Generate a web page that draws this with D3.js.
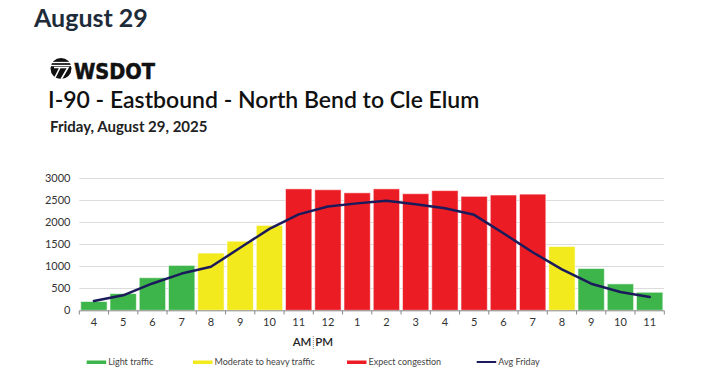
<!DOCTYPE html>
<html><head><meta charset="utf-8">
<script src="https://cdn.jsdelivr.net/npm/d3@7"></script>
<style>
html,body{margin:0;padding:0;background:#fff;}
svg{display:block;font-family:Lato,"Open Sans",sans-serif;}
</style></head>
<body><svg id="c" width="724" height="380"></svg>
<script>
const hours = ["4","5","6","7","8","9","10","11","12","1","2","3","4","5","6","7","8","9","10","11"];
const volumes = [200,380,740,1020,1300,1570,1930,2760,2740,2670,2760,2650,2720,2590,2620,2640,1450,950,600,410];
const levels = ["light","light","light","light","moderate","moderate","moderate","heavy","heavy","heavy","heavy","heavy","heavy","heavy","heavy","heavy","moderate","light","light","light"];
const avgFriday = [210,340,610,835,990,1420,1850,2180,2360,2430,2490,2410,2320,2170,1750,1320,930,605,415,300];
const yTicks = [0,500,1000,1500,2000,2500,3000];
const legendItems = [
  {key:"light", label:"Light traffic"},
  {key:"moderate", label:"Moderate to heavy traffic"},
  {key:"heavy", label:"Expect congestion"},
  {key:"avg", label:"Avg Friday"}
];
const colors = {light:"#3db54a", moderate:"#f3ea1d", heavy:"#ec1c24", avg:"#1b1b5c"};

const svg = d3.select("#c");
const idx = d3.range(hours.length);

// Header
svg.append("text").attr("x",34).attr("y",27).attr("font-size",25).attr("font-weight",700)
  .attr("fill","#1e2c3a").text("August 29");

// WSDOT logo
const logo = svg.append("g").attr("transform","translate(61,68.5)");
logo.append("circle").attr("r",10.5).attr("fill","#111");
[-6,-3].forEach(dy=>logo.append("line").attr("x1",-11).attr("x2",11).attr("y1",dy).attr("y2",dy).attr("stroke","#fff").attr("stroke-width",1.3));
logo.append("path").attr("d","M-7,-1 L7,-1 L0,11 M-1,-1 L-6,9").attr("stroke","#fff").attr("stroke-width",1.6).attr("fill","none");
svg.append("text").attr("x",74).attr("y",79).attr("font-size",22).attr("font-weight",900)
  .attr("font-family","'DejaVu Sans',sans-serif").attr("textLength",81).attr("lengthAdjust","spacingAndGlyphs")
  .attr("stroke","#111").attr("stroke-width",0.6)
  .attr("fill","#111").text("WSDOT");

svg.append("text").attr("x",48).attr("y",108).attr("font-size",23).attr("font-weight",600)
  .attr("fill","#111").text("I-90 - Eastbound - North Bend to Cle Elum");
svg.append("text").attr("x",50).attr("y",132).attr("font-size",15).attr("font-weight",700)
  .attr("fill","#222").text("Friday, August 29, 2025");

// Scales
const x = d3.scaleBand().domain(idx).range([79.3,664.3]).paddingInner(0.1).paddingOuter(0.05);
const xb = d3.scaleBand().domain(idx).range([79.3,664.3]);
const y = d3.scaleLinear().domain([0,3000]).range([310.3,178.3]);

// Gridlines
svg.append("g").selectAll("line").data(yTicks.slice(1)).join("line")
  .attr("x1",79.3).attr("x2",664.3).attr("y1",d=>Math.round(y(d))+0.5).attr("y2",d=>Math.round(y(d))+0.5)
  .attr("stroke","#dcdcdc").attr("stroke-width",1);

// Y axis labels
svg.append("g").selectAll("text").data(yTicks).join("text")
  .attr("x",70.5).attr("y",d=>y(d)+4).attr("text-anchor","end").attr("font-size",11).attr("fill","#333")
  .text(d=>d);

// Bars
svg.append("g").selectAll("rect").data(idx).join("rect")
  .attr("x",i=>x(i)).attr("width",x.bandwidth())
  .attr("y",i=>y(volumes[i])).attr("height",i=>y(0)-y(volumes[i]))
  .attr("fill",i=>colors[levels[i]])
  .attr("stroke","#fff").attr("stroke-opacity",0.55).attr("stroke-width",1);

// X axis
const ax = svg.append("g");
ax.append("line").attr("x1",79.3).attr("x2",664.3).attr("y1",310.8).attr("y2",310.8).attr("stroke","#888").attr("stroke-width",1);
const bounds = idx.map(i=>xb(i)).concat([664.3]);
ax.selectAll("line.t").data(bounds).join("line").attr("class","t")
  .attr("x1",d=>d).attr("x2",d=>d).attr("y1",310.8).attr("y2",314.5).attr("stroke","#888");
ax.selectAll("text").data(idx).join("text")
  .attr("x",i=>xb(i)+xb.bandwidth()/2).attr("y",326).attr("text-anchor","middle")
  .attr("font-size",11).attr("fill","#333").text(i=>hours[i]);

// AM | PM
const sep = xb(8);
svg.append("text").attr("x",sep-2).attr("y",346).attr("text-anchor","end").attr("font-size",11.5).attr("font-weight",600).attr("fill","#222").text("AM");
svg.append("text").attr("x",sep+2).attr("y",346).attr("text-anchor","start").attr("font-size",11.5).attr("font-weight",600).attr("fill","#222").text("PM");
svg.append("line").attr("x1",sep).attr("x2",sep).attr("y1",336).attr("y2",349).attr("stroke","#888").attr("stroke-dasharray","1,1");

// Avg line
const line = d3.line().x(i=>xb(i)+xb.bandwidth()/2).y(i=>y(avgFriday[i]));
svg.append("path").datum(idx).attr("d",line).attr("fill","none").attr("stroke",colors.avg)
  .attr("stroke-width",2.5).attr("stroke-linejoin","round").attr("stroke-linecap","round");

// Legend
const legendX = [86.7,193,347,476.7];
const lg = svg.append("g").selectAll("g").data(legendItems).join("g")
  .attr("transform",(d,i)=>`translate(${legendX[i]},362)`);
lg.append("rect").attr("x",0).attr("y",d=>d.key==="avg"?-1:-1.5).attr("width",19.5).attr("height",d=>d.key==="avg"?2:3.5)
  .attr("fill",d=>colors[d.key]);
lg.append("text").attr("x",21.5).attr("y",3).attr("font-size",9).attr("fill","#444").text(d=>d.label);
</script></body></html>
